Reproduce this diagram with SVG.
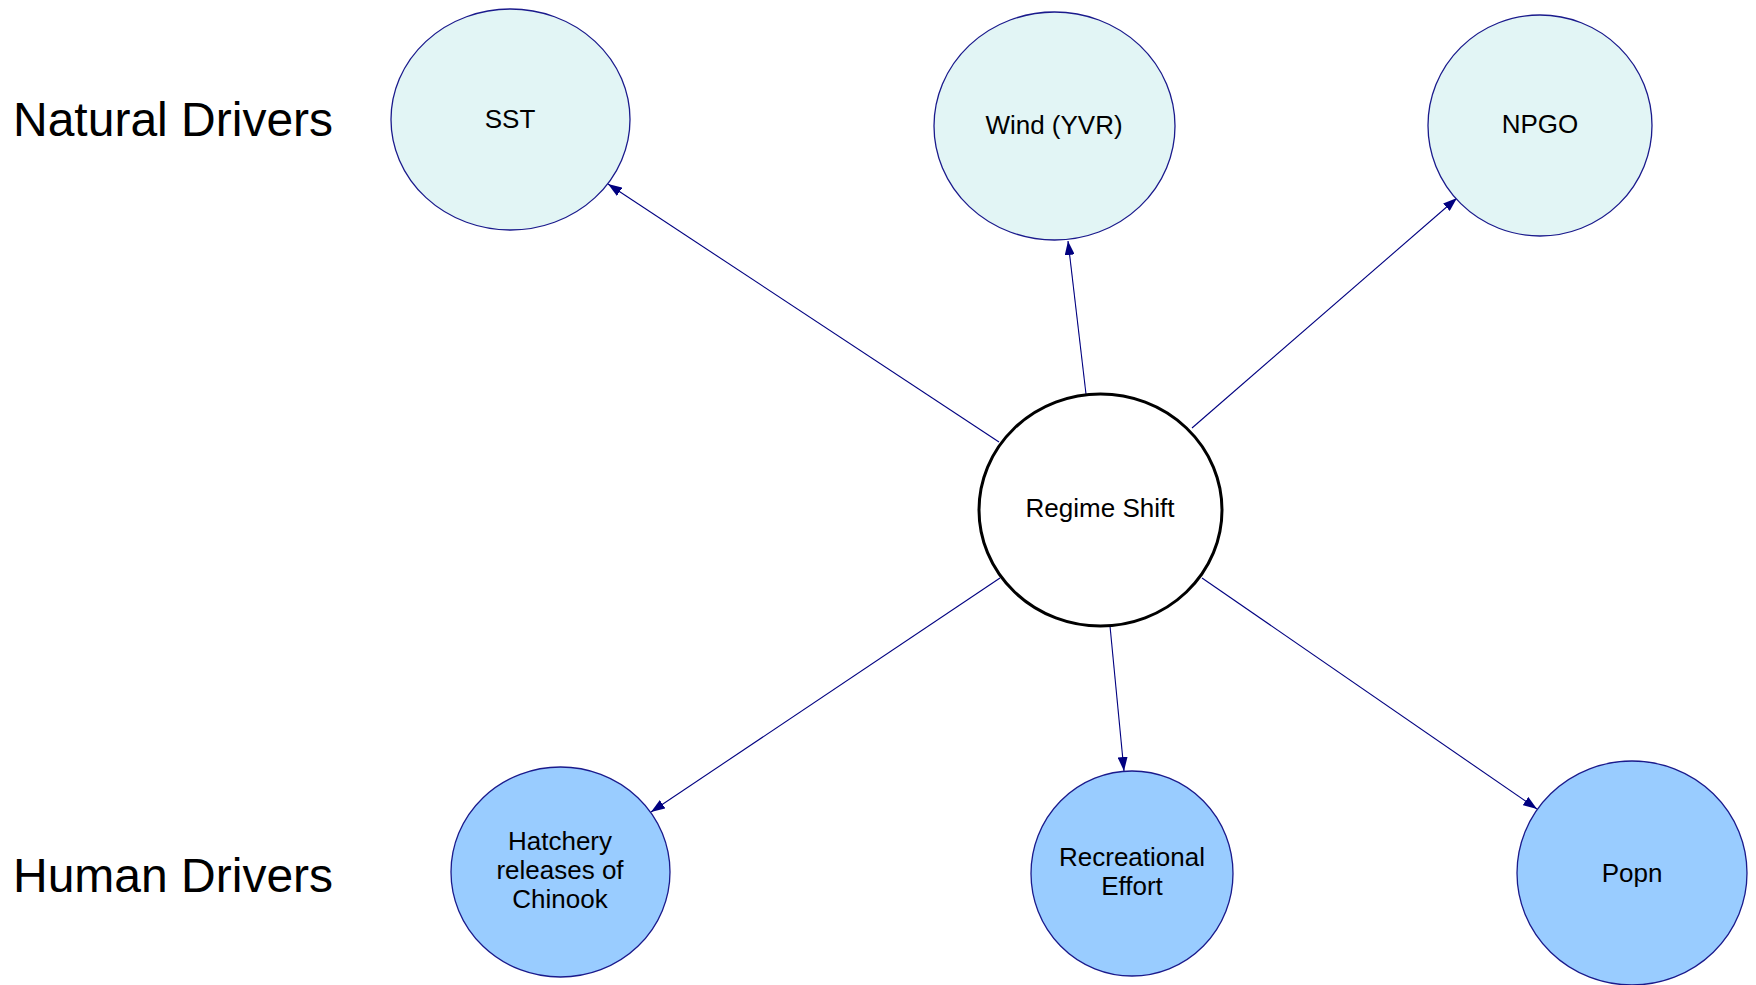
<svg xmlns="http://www.w3.org/2000/svg" width="1756" height="985" viewBox="0 0 1756 985">
<style>
.nat{fill:#e2f5f5;stroke:#1a1a8c;stroke-width:1.3}
.hum{fill:#99ccff;stroke:#1a1a8c;stroke-width:1.3}
.ctr{fill:#ffffff;stroke:#000000;stroke-width:3}
.lbl{font-family:"Liberation Sans",Arial,sans-serif;font-size:26px;fill:#000;text-anchor:middle}
.big{font-family:"Liberation Sans",Arial,sans-serif;font-size:48px;fill:#000}
.edge{stroke:#000080;stroke-width:1.1;fill:none;marker-end:url(#arr)}
</style>
<defs>
<marker id="arr" markerUnits="userSpaceOnUse" markerWidth="14" markerHeight="10" refX="14" refY="5" orient="auto">
<path d="M0,0 L14,5 L0,10 z" fill="#000080"/>
</marker>
</defs>
<rect width="1756" height="985" fill="#ffffff"/>
<text class="big" x="13" y="136">Natural Drivers</text>
<text class="big" x="13" y="892">Human Drivers</text>
<g id="connectors">
<line class="edge" x1="999" y1="442" x2="608" y2="184"/>
<line class="edge" x1="1086" y1="394" x2="1068" y2="241"/>
<line class="edge" x1="1192" y1="428" x2="1457" y2="198"/>
<line class="edge" x1="1000" y1="578" x2="651" y2="812"/>
<line class="edge" x1="1110" y1="626" x2="1124" y2="771"/>
<line class="edge" x1="1202" y1="578" x2="1537" y2="809"/>
</g>
<g id="sst"><ellipse class="nat" cx="510.5" cy="119.5" rx="119.5" ry="110.5"/><text class="lbl" x="510" y="128">SST</text></g>
<g id="wind"><ellipse class="nat" cx="1054.5" cy="126" rx="120.5" ry="114"/><text class="lbl" x="1054" y="134">Wind (YVR)</text></g>
<g id="npgo"><ellipse class="nat" cx="1540" cy="125.5" rx="112" ry="110.5"/><text class="lbl" x="1540" y="133">NPGO</text></g>
<g id="regime"><ellipse class="ctr" cx="1100.5" cy="510" rx="121.5" ry="116"/><text class="lbl" x="1100" y="517">Regime Shift</text></g>
<g id="hatchery"><ellipse class="hum" cx="560.5" cy="872" rx="109.5" ry="105"/><text class="lbl" x="560" y="850">Hatchery</text><text class="lbl" x="560" y="879">releases of</text><text class="lbl" x="560" y="908">Chinook</text></g>
<g id="recreational"><ellipse class="hum" cx="1132" cy="873.5" rx="101" ry="102.5"/><text class="lbl" x="1132" y="866">Recreational</text><text class="lbl" x="1132" y="895">Effort</text></g>
<g id="popn"><ellipse class="hum" cx="1632" cy="873" rx="115" ry="112"/><text class="lbl" x="1632" y="882">Popn</text></g>
</svg>
